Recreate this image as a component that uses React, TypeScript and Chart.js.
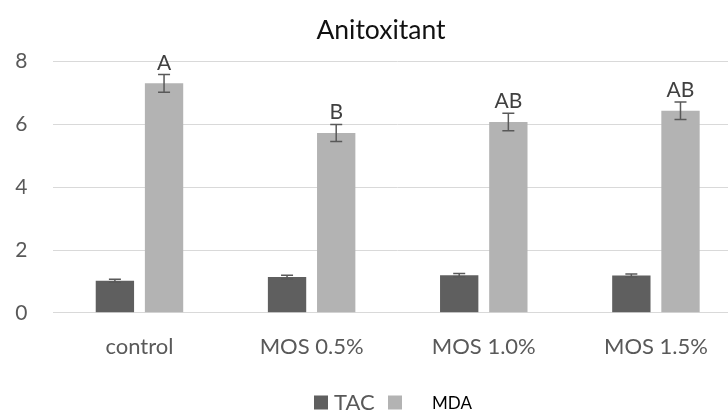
import React, { useEffect, useRef } from "react";
import { Chart, registerables } from "chart.js";

Chart.register(...registerables);

const categories = ["control", "MOS 0.5%", "MOS 1.0%", "MOS 1.5%"];
const tacValues = [1.02, 1.14, 1.2, 1.19];
const tacErrors = [0.05, 0.06, 0.05, 0.05];
const mdaValues = [7.31, 5.73, 6.08, 6.44];
const mdaErrors = [0.28, 0.27, 0.28, 0.28];
const mdaLetters = ["A", "B", "AB", "AB"];
const yTicks = [0, 2, 4, 6, 8];
const seriesNames = ["TAC", "MDA"];
const titleText = "Anitoxitant";

const FONT = "Lato, 'Open Sans', sans-serif";
const TAC_COLOR = "#5f5f5f";
const MDA_COLOR = "#b3b3b3";
const ERR_COLOR = "#595959";

const errorPlugin = {
  id: "errorBarsAndLetters",
  afterDatasetsDraw(chart: any) {
    const ctx = chart.ctx;
    const yScale = chart.scales.y;
    const errs = [tacErrors, mdaErrors];
    const vals = [tacValues, mdaValues];
    ctx.save();
    ctx.strokeStyle = ERR_COLOR;
    ctx.lineWidth = 1.5;
    for (let d = 0; d < 2; d++) {
      const meta = chart.getDatasetMeta(d);
      meta.data.forEach((bar: any, i: number) => {
        const x = bar.x;
        const yTop = yScale.getPixelForValue(vals[d][i] + errs[d][i]);
        const yBot = yScale.getPixelForValue(vals[d][i] - errs[d][i]);
        const cap = 6;
        ctx.beginPath();
        ctx.moveTo(x, yTop);
        ctx.lineTo(x, yBot);
        ctx.moveTo(x - cap, yTop);
        ctx.lineTo(x + cap, yTop);
        ctx.moveTo(x - cap, yBot);
        ctx.lineTo(x + cap, yBot);
        ctx.stroke();
        if (d === 1) {
          ctx.fillStyle = "#404040";
          ctx.font = `21px ${FONT}`;
          ctx.textAlign = "center";
          ctx.textBaseline = "alphabetic";
          ctx.fillText(mdaLetters[i], x, yTop - 5);
        }
      });
    }
    ctx.restore();
  },
  afterDraw(chart: any) {
    const ctx = chart.ctx;
    ctx.save();
    // title
    ctx.fillStyle = "#111111";
    ctx.font = `26.5px ${FONT}`;
    ctx.textAlign = "center";
    ctx.textBaseline = "middle";
    ctx.fillText(titleText, 381, 30);
    // legend
    const cy = 402.5;
    ctx.fillStyle = TAC_COLOR;
    ctx.fillRect(314, cy - 7, 14, 14);
    ctx.fillStyle = "#595959";
    ctx.font = `22px ${FONT}`;
    ctx.textAlign = "left";
    ctx.textBaseline = "middle";
    ctx.fillText(seriesNames[0], 334, cy);
    ctx.fillStyle = MDA_COLOR;
    ctx.fillRect(388, cy - 7, 14, 14);
    ctx.fillStyle = "#000000";
    ctx.font = `17px ${FONT}`;
    ctx.fillText(seriesNames[1], 432, cy + 1);
    ctx.restore();
  },
};

export default function App() {
  const ref = useRef<HTMLCanvasElement | null>(null);
  useEffect(() => {
    if (!ref.current) return;
    const chart = new Chart(ref.current, {
      type: "bar",
      data: {
        labels: categories,
        datasets: [
          {
            label: seriesNames[0],
            data: tacValues,
            backgroundColor: TAC_COLOR,
            categoryPercentage: 0.571,
            barPercentage: 0.78,
          },
          {
            label: seriesNames[1],
            data: mdaValues,
            backgroundColor: MDA_COLOR,
            categoryPercentage: 0.571,
            barPercentage: 0.78,
          },
        ],
      },
      options: {
        responsive: false,
        animation: false,
        layout: { padding: { left: 0, right: 0, top: 61.7, bottom: 29.8 } },
        plugins: {
          legend: { display: false },
          tooltip: { enabled: false },
          title: { display: false },
        },
        scales: {
          x: {
            grid: { display: false, drawTicks: false },
            border: { display: true, color: "#d9d9d9", width: 1 },
            ticks: {
              color: "#595959",
              font: { family: FONT, size: 22 },
              padding: 21,
              maxRotation: 0,
            },
          },
          y: {
            min: 0,
            max: 8,
            afterFit: (s: any) => {
              s.width = 53.4;
            },
            afterBuildTicks: (s: any) => {
              s.ticks = yTicks.map((v) => ({ value: v }));
            },
            grid: { color: "#d9d9d9", lineWidth: 1, drawTicks: false },
            border: { display: false },
            ticks: {
              color: "#595959",
              font: { family: FONT, size: 21 },
              padding: 26,
            },
          },
        },
      },
      plugins: [errorPlugin],
    });
    return () => chart.destroy();
  }, []);
  return (
    <div
      style={{
        position: "fixed",
        left: 0,
        top: 0,
        width: 728,
        height: 411,
        overflow: "hidden",
        background: "#ffffff",
      }}
    >
      <canvas ref={ref} width={742} height={411} style={{ display: "block" }} />
    </div>
  );
}
